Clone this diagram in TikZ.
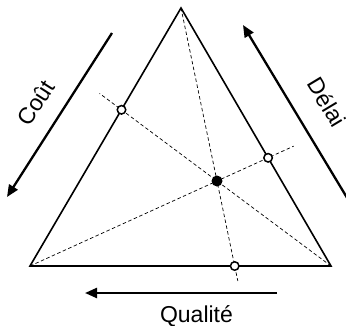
\documentclass[tikz,border=0pt]{standalone}
\usepackage{fontspec}
\setmainfont{Liberation Sans}
\usetikzlibrary{arrows.meta,calc}
\tikzset{
  side/.style={line width=1.6pt},
  guide/.style={line width=0.7pt, dash pattern=on 3.5pt off 2.5pt},
  openpt/.style={circle, draw, line width=1.5pt, fill=white, minimum size=8.5pt, inner sep=0pt},
  fullpt/.style={circle, fill=black, minimum size=11pt, inner sep=0pt},
  bigarrow/.style={line width=2.3pt, -{Triangle[length=12pt,width=10pt]}},
  lbl/.style={font=\fontsize{23}{27}\selectfont, inner sep=0pt}
}
\begin{document}
\begin{tikzpicture}[x=1pt,y=-1pt]
\useasboundingbox (0,0) rectangle (346,325);
\coordinate (T) at (181,8);
\coordinate (A) at (30,266);
\coordinate (B) at (331,266);
\coordinate (P) at (217,181);
% dashed guides
\draw[guide] (T) -- ($(T)!1.058!(234.7,266)$) coordinate (Te);
\draw[guide] (A) -- ($(A)!1.41!(P)$) coordinate (Ae);
\draw[guide] (B) -- ($(B)!2.03!(P)$) coordinate (Be);
% triangle
\draw[side, line join=miter] (A) -- (T) -- (B) -- cycle;
% points
\node[openpt] (L) at (121.5,109.8) {};
\node[openpt] (R) at (268.1,157.8) {};
\node[openpt] (Q) at (234.7,266) {};
\node[fullpt] (M) at (P) {};
% arrows
\coordinate (c1) at (112,33); \coordinate (c2) at (7,197);
\draw[bigarrow] (c1) -- (c2);
\coordinate (d1) at (352,206); \coordinate (d2) at (243,25);
\draw[bigarrow] (d1) -- (d2);
\coordinate (q1) at (277,293); \coordinate (q2) at (85,293);
\draw[bigarrow] (q1) -- (q2);
% labels
\node[lbl, anchor=base] (tq) at (196.5,322.3) {Qualité};
\node[lbl, rotate=57.4] (tc) at (36,103) {Coût};
\node[lbl, rotate=-59] (td) at (327,102) {Délai};
\end{tikzpicture}
\end{document}
